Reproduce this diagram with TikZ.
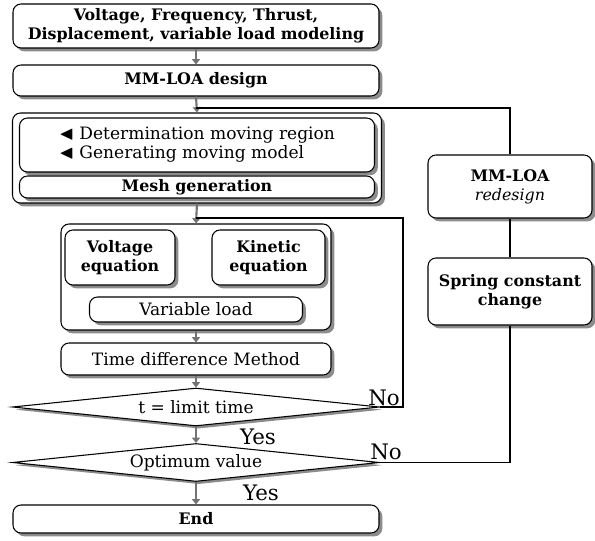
\documentclass[tikz,border=0pt]{standalone}
\usepackage{amssymb}
\usepackage{fontspec}
\setmainfont{DejaVu Serif}
\usetikzlibrary{shapes.geometric, arrows.meta, shadows}
\newcommand{\basesize}{\fontsize{12.8}{14.25}\selectfont}
\newcommand{\boldsize}{\fontsize{11.9}{14.25}\selectfont}

\begin{document}
\begin{tikzpicture}[x=0.75pt, y=-0.75pt,
        font=\basesize,
        sbox/.style={rectangle, draw=black, thick, fill=white, rounded corners=6pt, align=center, inner sep=0pt, drop shadow={shadow xshift=2.5pt, shadow yshift=-2.5pt, fill=black!45, opacity=1}},
        dbox/.style={diamond, aspect=10, draw=black, thick, fill=white, inner sep=0pt, minimum width=275.25pt, minimum height=28.5pt, drop shadow={shadow xshift=2pt, shadow yshift=-2pt, fill=black!45, opacity=1}},
        bold/.style={font=\boldsize\bfseries},
        flow/.style={draw=black!55, line width=1.6pt, -{Triangle[length=4pt, width=6pt]}},
        back/.style={draw=black, line width=1.3pt},
        tag/.style={font=\fontsize{16}{17}\selectfont}
    ]
        \useasboundingbox (0,0) rectangle (595,541);

        % Columna principal
        \node [sbox, bold, minimum width=274.5pt, minimum height=33pt] (inp) at (196,26) {Voltage, Frequency, Thrust,\\Displacement, variable load modeling};
        \node [sbox, bold, minimum width=274.5pt, minimum height=23.25pt] (design) at (196,80.5) {MM-LOA design};

        \node [sbox, minimum width=276.75pt, minimum height=67.5pt] (grpA) at (197,158) {};
        \node [sbox, minimum width=266.25pt, minimum height=40.5pt, align=left] (moving) at (197,145) {{\Large$\blacktriangleleft$} Determination moving region\\{\Large$\blacktriangleleft$} Generating moving model};
        \node [sbox, bold, minimum width=266.25pt, minimum height=16.5pt] (mesh) at (197,187) {Mesh generation};

        \node [sbox, minimum width=202.5pt, minimum height=79.5pt] (grpB) at (196,277) {};
        \node [sbox, bold, minimum width=82.5pt, minimum height=41.25pt] (volt) at (120,257.5) {Voltage\\equation};
        \node [sbox, bold, minimum width=84.75pt, minimum height=41.25pt] (kin) at (268.5,257.5) {Kinetic\\equation};
        \node [sbox, minimum width=159.75pt, minimum height=18.75pt] (load) at (196,309.5) {Variable load};

        \node [sbox, minimum width=202.5pt, minimum height=24pt] (tdm) at (196,359) {Time difference Method};
        \node [dbox] (dec1) at (196,407) {t = limit time};
        \node [dbox] (dec2) at (196,462.5) {Optimum value};
        \node [sbox, bold, minimum width=274.5pt, minimum height=21pt] (fin) at (196,519) {End};

        % Columna de rediseño
        \node [sbox, bold, minimum width=123pt, minimum height=47.25pt] (redes) at (510,186.5) {MM-LOA\\\normalfont\boldsize\itshape redesign};
        \node [sbox, bold, minimum width=123pt, minimum height=50.25pt] (spring) at (510,291.5) {Spring constant\\change};

        % Etiquetas
        \node [tag] (no1) at (384,398) {No};
        \node [tag] (yes1) at (258,437) {Yes};
        \node [tag] (no2) at (386,452) {No};
        \node [tag] (yes2) at (261,493) {Yes};

        % Flechas de flujo
        \draw [flow] (inp.south) -- (design.north);
        \draw [flow] (design.south) -- (grpA.north);
        \draw [flow] (grpA.south) -- (grpB.north);
        \draw [flow] (grpB.south) -- (tdm.north);
        \draw [flow] (tdm.south) -- (dec1.north);
        \draw [flow] (dec1.south) -- (dec2.north);
        \draw [flow] (dec2.south) -- (fin.north);

        % Lazos de retorno
        \coordinate (joinA) at (196,108);
        \coordinate (joinB) at (196,218);
        \draw [back] (dec1.east) -- (403,407) |- (joinB);
        \draw [back] (dec2.east) -| (spring.south);
        \draw [back] (spring.north) -- (redes.south);
        \draw [back] (redes.north) |- (joinA);
    \end{tikzpicture}
\end{document}
